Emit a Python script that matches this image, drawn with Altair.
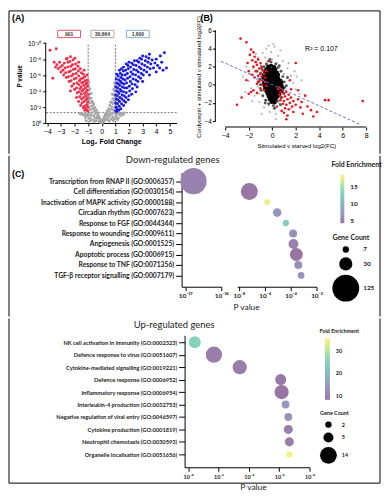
import altair as alt
import pandas as pd

FA = "Liberation Sans"
FC = "Lato"

# ---------------- (A) volcano: log2 fold change vs -log10(P) ----------------
volcano_red = [
    (-1.02, 1.5), (-1.05, 2.0), (-1.03, 2.6), (-1.06, 3.1), (-1.02, 3.6), (-1.08, 4.1), (-1.04, 4.6), (-1.1, 5.0),
    (-1.05, 5.4), (-1.12, 2.3), (-1.15, 2.9), (-1.18, 3.4), (-1.14, 3.9), (-1.2, 4.4), (-1.16, 4.9), (-1.22, 5.3),
    (-1.25, 5.8), (-1.28, 2.1), (-1.3, 2.7), (-1.33, 3.2), (-1.27, 3.7), (-1.35, 4.2), (-1.32, 4.7), (-1.38, 5.1),
    (-1.4, 5.6), (-1.36, 6.1), (-1.45, 2.5), (-1.48, 3.0), (-1.5, 3.6), (-1.43, 4.0), (-1.52, 4.5), (-1.47, 5.0),
    (-1.55, 5.5), (-1.5, 6.3), (-1.58, 6.8), (-1.62, 3.3), (-1.65, 3.9), (-1.6, 4.3), (-1.68, 4.8), (-1.63, 5.3),
    (-1.7, 5.9), (-1.72, 6.5), (-1.75, 7.1), (-1.8, 3.8), (-1.85, 4.4), (-1.82, 5.0), (-1.9, 5.6), (-1.88, 6.2),
    (-1.95, 6.8), (-1.92, 7.4), (-2.0, 4.2), (-2.05, 4.9), (-2.02, 5.5), (-2.1, 6.1), (-2.08, 6.7), (-2.15, 7.3),
    (-2.12, 7.9), (-2.2, 4.6), (-2.25, 5.3), (-2.22, 5.9), (-2.3, 6.5), (-2.28, 7.1), (-2.35, 7.7), (-2.4, 5.2),
    (-2.45, 5.8), (-2.42, 6.4), (-2.5, 7.0), (-2.48, 7.6), (-2.55, 8.1), (-2.6, 5.7), (-2.65, 6.3), (-2.7, 6.9),
    (-2.75, 7.5), (-2.8, 6.0), (-2.85, 6.6), (-2.9, 7.2), (-3.0, 6.4), (-3.05, 7.0), (-3.1, 7.6), (-3.2, 6.8),
    (-3.3, 7.3), (-3.4, 7.0), (-3.5, 7.6), (-3.6, 5.6), (-3.35, 9.3), (-3.8, 9.1), (-2.3, 8.3), (-1.98, 8.1),
    (-1.7, 7.6), (-1.1, 1.6), (-1.2, 1.8), (-1.35, 1.9), (-1.55, 2.2), (-1.7, 2.7), (-1.85, 3.2), (-2.3, 4.0),
    (-1.25, 1.6), (-1.08, 6.0), (-1.3, 6.6), (-2.6, 8.0),
]
volcano_blue = [
    (1.02, 1.5), (1.05, 2.0), (1.03, 2.5), (1.06, 3.0), (1.02, 3.5), (1.08, 4.0), (1.04, 4.5), (1.1, 5.0),
    (1.06, 5.5), (1.12, 1.8), (1.15, 2.4), (1.18, 2.9), (1.14, 3.4), (1.2, 3.9), (1.16, 4.4), (1.22, 4.9),
    (1.25, 5.4), (1.2, 5.9), (1.28, 2.1), (1.3, 2.7), (1.33, 3.2), (1.27, 3.7), (1.35, 4.2), (1.32, 4.7),
    (1.38, 5.2), (1.4, 5.7), (1.36, 6.2), (1.45, 2.4), (1.48, 3.0), (1.5, 3.5), (1.43, 4.0), (1.52, 4.5),
    (1.47, 5.0), (1.55, 5.5), (1.5, 6.0), (1.58, 6.5), (1.62, 2.8), (1.65, 3.4), (1.6, 3.9), (1.68, 4.4),
    (1.63, 4.9), (1.7, 5.4), (1.72, 6.0), (1.75, 6.6), (1.78, 3.2), (1.8, 3.8), (1.85, 4.4), (1.82, 5.0),
    (1.9, 5.6), (1.88, 6.2), (1.95, 6.8), (1.92, 7.2), (2.0, 3.4), (2.05, 4.0), (2.02, 4.6), (2.1, 5.2),
    (2.08, 5.8), (2.15, 6.4), (2.12, 7.0), (2.2, 7.5), (2.25, 4.3), (2.22, 4.9), (2.3, 5.5), (2.28, 6.1),
    (2.35, 6.7), (2.32, 7.3), (2.4, 7.8), (2.45, 4.8), (2.5, 5.4), (2.48, 6.0), (2.55, 6.6), (2.52, 7.2),
    (2.6, 7.8), (2.65, 5.2), (2.7, 5.8), (2.68, 6.4), (2.75, 7.0), (2.72, 7.6), (2.8, 8.1), (2.85, 5.6),
    (2.9, 6.2), (2.88, 6.8), (2.95, 7.4), (2.92, 8.0), (3.0, 8.4), (3.05, 6.0), (3.1, 6.6), (3.15, 7.2),
    (3.2, 7.8), (3.25, 8.3), (3.3, 6.4), (3.35, 7.0), (3.4, 7.6), (3.45, 8.1), (3.55, 6.8), (3.6, 7.4),
    (3.7, 7.9), (3.8, 6.9), (3.9, 7.5), (4.0, 8.0), (4.1, 7.2), (4.25, 6.9), (4.4, 7.6), (4.5, 6.6),
    (4.6, 8.8), (4.75, 6.9), (3.5, 8.6), (4.3, 8.4), (1.3, 6.6), (1.6, 7.0), (2.0, 7.6), (1.1, 1.45),
    (1.25, 1.6), (1.4, 1.8), (1.6, 2.2), (1.75, 2.6), (1.95, 2.9), (2.2, 3.6), (2.6, 4.5), (3.0, 5.2),
    (3.5, 6.0), (4.0, 6.4), (2.5, 3.9), (1.1, 6.1), (1.45, 6.8), (1.8, 7.4),
]
volcano_grey = [
    (0.0, 0.05), (0.05, 0.2), (-0.05, 0.15), (0.1, 0.4), (-0.1, 0.35), (0.15, 0.6), (-0.15, 0.55), (0.2, 0.8),
    (-0.2, 0.75), (0.2, 0.3), (-0.2, 0.2), (0.25, 1.0), (-0.25, 0.95), (0.3, 0.5), (-0.3, 0.6), (0.3, 1.2),
    (-0.3, 1.3), (0.35, 0.9), (-0.35, 0.8), (0.4, 1.5), (-0.4, 1.6), (0.4, 0.4), (-0.4, 0.3), (0.45, 1.1),
    (-0.45, 1.2), (0.5, 1.8), (-0.5, 1.9), (0.5, 0.7), (-0.5, 0.6), (0.55, 1.4), (-0.55, 1.5), (0.6, 2.2),
    (-0.6, 2.3), (0.6, 1.0), (-0.6, 0.9), (0.65, 1.7), (-0.65, 1.8), (0.7, 2.6), (-0.7, 2.7), (0.7, 0.5),
    (-0.7, 0.4), (0.75, 2.0), (-0.75, 2.1), (0.75, 1.2), (-0.75, 1.3), (0.8, 3.0), (-0.8, 3.1), (0.8, 0.8),
    (-0.8, 0.9), (0.85, 2.4), (-0.85, 2.5), (0.85, 1.6), (-0.85, 1.7), (0.9, 3.5), (-0.9, 3.6), (0.9, 0.5),
    (-0.9, 0.6), (0.92, 2.8), (-0.92, 2.9), (0.95, 4.0), (-0.95, 4.1), (0.95, 1.9), (-0.95, 2.0), (0.97, 3.2),
    (-0.97, 3.3), (0.98, 4.6), (-0.98, 4.7), (0.99, 1.2), (-0.99, 1.1), (1.05, 0.8), (-1.05, 0.9), (1.1, 1.1),
    (-1.1, 1.0), (1.2, 0.6), (-1.2, 0.7), (1.25, 1.2), (-1.25, 1.1), (1.35, 0.9), (-1.35, 1.0), (1.45, 1.2),
    (-1.45, 1.15), (1.55, 1.0), (-1.55, 1.1), (1.65, 1.25), (-1.6, 1.2), (1.15, 0.4), (-1.15, 0.3), (0.1, 0.1),
    (-0.1, 0.05), (0.55, 0.25), (-0.55, 0.2), (0.85, 0.3), (-0.85, 0.25), (0.65, 2.6), (-0.65, 2.5), (0.88, 4.2),
    (-0.88, 4.3), (0.95, 5.0), (-0.95, 5.1), (0.78, 3.6), (-0.78, 3.7),
]
box_labels = ["901", "30,664", "1,600"]
box_x = [-2.4, 0.05, 2.65]
box_y = 11.15
box_colors = ["#e4576b", "#a9a9a9", "#86b3d8"]
fc_cutoffs = [-1, 1]
p_cutoff = [1.3]
volcano_ticks_x = [-4, -3, -2, -1, 0, 1, 2, 3, 4, 5]
volcano_ticks_y = [0, 2, 4, 6, 8, 10]

# ---------------- (B) scatter ----------------
sc_core = [
    (-0.35, 2.0), (-0.1, 2.1), (0.15, 1.95), (-0.5, 1.7), (-0.25, 1.75), (0.0, 1.65), (0.25, 1.7),
    (-0.6, 1.4), (-0.35, 1.45), (-0.1, 1.35), (0.15, 1.4), (0.4, 1.35), (-0.7, 1.1), (-0.45, 1.15),
    (-0.2, 1.05), (0.05, 1.1), (0.3, 1.05), (0.5, 1.1), (-0.75, 0.8), (-0.5, 0.85), (-0.25, 0.75),
    (0.0, 0.8), (0.25, 0.85), (0.5, 0.75), (-0.75, 0.5), (-0.5, 0.45), (-0.25, 0.55), (0.0, 0.5),
    (0.25, 0.45), (0.5, 0.5), (0.7, 0.45), (-0.7, 0.2), (-0.45, 0.15), (-0.2, 0.25), (0.05, 0.2),
    (0.3, 0.15), (0.55, 0.2), (0.75, 0.25), (-0.65, -0.1), (-0.4, -0.05), (-0.15, -0.15), (0.1, -0.1),
    (0.35, -0.05), (0.6, -0.15), (0.8, -0.1), (-0.6, -0.4), (-0.35, -0.45), (-0.1, -0.35), (0.15, -0.4),
    (0.4, -0.45), (0.65, -0.35), (0.85, -0.4), (-0.5, -0.7), (-0.25, -0.75), (0.0, -0.65), (0.25, -0.7),
    (0.5, -0.75), (0.75, -0.7), (-0.4, -1.0), (-0.15, -1.05), (0.1, -0.95), (0.35, -1.0), (0.6, -1.05),
    (-0.3, -1.3), (-0.05, -1.35), (0.2, -1.25), (0.45, -1.3), (-0.2, -1.6), (0.05, -1.65), (0.3, -1.55),
    (-0.05, -1.9), (0.2, -1.95),
]
sc_halo = [
    (-0.9, 1.8), (-1.0, 1.2), (-1.05, 0.6), (-1.0, 0.0), (-0.95, -0.6), (-0.8, -1.2), (-0.55, -1.7),
    (-0.3, -2.1), (0.1, -2.3), (0.45, -1.8), (0.75, -1.4), (0.95, -0.9), (1.05, -0.3), (1.0, 0.3),
    (0.9, 0.9), (0.75, 1.5), (0.5, 1.9), (0.3, 2.3), (-0.1, 2.5), (-0.5, 2.3), (-0.7, 2.0), (-1.2, 0.3),
    (1.2, -0.1), (0.6, 2.1), (-0.6, -2.0), (0.7, -2.2), (-1.3, 1.5), (1.3, 0.8), (-0.2, 2.8), (0.2, -2.6),
]
sc_fringe = [
    (-1.5, 2.5), (-1.2, 3.0), (-0.8, 3.5), (-0.5, 4.0), (0.2, 4.2), (0.5, 3.2), (0.9, 2.6), (1.3, 1.8),
    (1.6, 1.0), (1.8, 0.2), (2.0, -0.5), (1.5, -1.5), (1.2, -2.2), (0.8, -2.8), (0.3, -3.2), (-0.2, -3.0),
    (-0.7, -2.5), (-1.1, -1.9), (-1.5, -1.2), (-1.8, -0.4), (-2.0, 0.4), (-1.9, 1.2), (-1.6, 1.8),
    (-1.0, 2.2), (-0.9, 1.5), (1.0, 1.2), (1.1, 0.3), (1.2, -0.6), (0.9, -1.4), (-1.1, -1.0), (-1.3, 0.6),
    (-1.2, -0.2), (0.0, 2.8), (0.4, 2.4), (-0.4, 2.6), (0.6, -2.0), (-0.3, -2.3), (0.1, -2.6), (1.4, 2.4),
    (-2.3, -0.8), (2.3, -1.0), (-0.6, 3.0), (0.7, 3.8), (-1.4, 3.4), (1.9, 1.5), (-2.2, 2.0), (2.5, 0.5),
    (-0.1, 3.6), (0.3, -3.8), (-0.9, -3.2), (0.1, 4.5), (-0.3, 4.3), (1.6, -2.6), (-1.7, -1.8), (2.1, 0.9),
    (-2.5, 0.9),
]
sc_red = [
    (-1.8, 3.9), (-1.6, 3.6), (-1.9, 3.3), (-1.5, 3.1), (-1.2, 2.8), (-1.7, 2.7), (-1.4, 2.5), (-1.0, 2.4),
    (-1.3, 2.2), (-0.9, 2.0), (-1.6, 2.0), (-1.1, 1.8), (-0.8, 1.6), (-1.4, 1.5), (-1.0, 1.3), (-0.7, 1.2),
    (-1.2, 1.0), (-0.9, 0.9), (-0.6, 0.8), (-1.5, 0.8), (-0.8, 0.5), (-1.1, 0.4), (-0.6, 0.3), (-1.3, 0.1),
    (-0.9, 0.0), (-0.5, -0.1), (-1.0, -0.4), (-1.6, -0.6), (-1.8, -0.8), (-1.3, -0.9), (-2.0, -1.0),
    (-0.7, -0.6), (-2.2, 0.5), (-2.0, 1.5), (-0.5, 1.5), (-2.6, -1.4), (-3.0, -2.2), (-2.7, 5.1),
    (-2.2, 4.7), (-0.3, 2.6), (-1.7, 1.1), (-2.1, 2.4), (0.5, -0.5), (0.7, -0.8), (0.9, -0.6), (0.6, -1.1),
    (1.0, -1.0), (1.2, -0.8), (0.8, -1.4), (1.1, -1.3), (1.4, -1.1), (0.7, -1.7), (1.0, -1.8), (1.3, -1.6),
    (1.6, -1.4), (0.9, -2.1), (1.2, -2.2), (1.5, -2.0), (1.8, -1.8), (1.1, -2.6), (1.4, -2.7), (1.7, -2.4),
    (2.0, -2.2), (2.2, -1.6), (2.4, -2.5), (1.0, -3.1), (1.3, -3.4), (1.8, -3.0), (2.6, -3.2), (3.0, -2.4),
    (3.3, -2.8), (3.8, -3.0), (4.5, -1.7), (4.8, -1.7), (7.7, -1.8), (2.8, -1.2), (0.6, -0.3), (1.5, 0.5),
    (2.0, 2.4), (1.2, -3.8), (3.5, -3.5), (0.4, -2.4), (2.2, -0.6), (1.6, -0.5), (0.8, -2.9), (2.5, -1.9),
]
reg_x = [-4.35, 7.5]
reg_y = [2.6, -4.4]
r2_label = ["R² = 0.107"]
r2_pos = [2.8, 3.95]
scatter_ticks_x = [-4, -2, 0, 2, 4, 6, 8]
scatter_ticks_y = [-4, -2, 0, 2, 4, 6]

# ---------------- (C) GO enrichment ----------------
down_terms = [
    "Transcription from RNAP II (GO:0006357)", "Cell differentiation (GO:0030154)",
    "Inactivation of MAPK activity (GO:0000188)", "Circadian rhythm (GO:0007623)",
    "Response to FGF (GO:0044344)", "Response to wounding (GO:0009611)", "Angiogenesis (GO:0001525)",
    "Apoptotic process (GO:0006915)", "Response to TNF (GO:0071356)",
    "TGF-β receptor signalling (GO:0007179)",
]
down_log10p = [-36.77, -7.19, -5.81, -5.04, -4.37, -3.81, -3.78, -3.56, -3.41, -3.19]
down_count = [120, 50, 6, 13, 7, 11, 17, 29, 11, 8]
down_fold = [5.5, 4.7, 18.0, 7.2, 12.9, 6.5, 5.5, 4.5, 6.5, 7.2]

up_terms = [
    "NK cell activation in immunity (GO:0002323)", "Defence response to virus (GO:0051607)",
    "Cytokine-mediated signalling (GO:0019221)", "Defence response (GO:0006952)",
    "Inflammatory response (GO:0006954)", "Interleukin-4 production (GO:0032753)",
    "Negative regulation of viral entry (GO:0046597)", "Cytokine production (GO:0001819)",
    "Neutrophil chemotaxis (GO:0030593)", "Organelle localisation (GO:0051656)",
]
up_log10p = [-7.56, -6.30, -4.60, -1.90, -1.84, -1.58, -1.40, -1.40, -1.33, -1.33]
up_count = [7, 13, 10, 6, 10, 3, 3, 4, 4, 2]
up_fold = [24.7, 9.7, 9.7, 9.0, 8.5, 13.8, 13.2, 9.7, 9.7, 34.5]

# ---------------- helpers ----------------
SUP = str.maketrans("-0123456789", "⁻⁰¹²³⁴⁵⁶⁷⁸⁹")


def pow10(e, neg_zero=False):
    s = str(e).translate(SUP)
    if e == 0 and neg_zero:
        s = "⁻⁰"
    return "10" + s


def expr_from(pairs):
    out = "''"
    for v, s in pairs:
        out = f"(datum.value == {v} ? '{s}' : {out})"
    return out


VIRIDIS = ["#440154", "#482878", "#3e4989", "#31688e", "#26828e",
           "#1f9e89", "#35b779", "#6ece58", "#b5de2b", "#fde725"]


def pastel(h, a=0.55):
    c = [int(h[i:i + 2], 16) for i in (1, 3, 5)]
    return "#" + "".join(f"{round(v * a + 255 * (1 - a)):02x}" for v in c)


PASTEL = [pastel(c) for c in VIRIDIS]


def piecewise(lo, hi):
    return [lo + i * (hi - lo) / 9 for i in range(10)]


def frame(rows, cols):
    return pd.DataFrame(rows, columns=cols)


# figure frame (relative to the first view of each row)
BL, BR = -37, 337


def border(x1, y1, x2, y2):
    return alt.Chart(pd.DataFrame({"a": [0]})).mark_rule(color="black", strokeWidth=1).encode(
        x=alt.value(x1), x2=alt.value(x2), y=alt.value(y1), y2=alt.value(y2))


def text_at(t, x, y, size, weight="normal", align="left", font=FC, color="#222222"):
    return alt.Chart(pd.DataFrame({"t": [t]})).mark_text(
        align=align, baseline="middle", fontSize=size, fontWeight=weight, font=font, color=color).encode(
        x=alt.value(x), y=alt.value(y), text="t:N")


# ---------------- panel A ----------------
xA = alt.Scale(domain=[-4.12, 5.5], nice=False, zero=False)
yA = alt.Scale(domain=[0, 11.8], nice=False, zero=False)
axAx = alt.Axis(values=volcano_ticks_x, title="Log₂ Fold Change", grid=False, tickSize=3,
                tickColor="black", domainColor="black", labelColor="black", labelFont=FA,
                labelFontSize=7, labelFlush=False, labelOverlap=False, labelPadding=2, titleFont=FA,
                titleFontSize=7, titleFontWeight="bold", titleColor="black", titlePadding=3)
axAy = alt.Axis(values=volcano_ticks_y, labelExpr=expr_from([(v, pow10(-v)) for v in volcano_ticks_y]),
                title="P value", grid=False, domain=False, tickSize=3, tickColor="black",
                labelColor="black", labelFont=FA, labelFontSize=6.5, labelPadding=2, labelOverlap=False,
                titleFont=FA, titleFontSize=6.5, titleFontWeight="bold", titleColor="black", titlePadding=5)
XA = alt.X("fc:Q", scale=xA, axis=axAx)
YA = alt.Y("nlp:Q", scale=yA, axis=axAy)


def vpts(data, color):
    return alt.Chart(frame(data, ["fc", "nlp"])).mark_circle(color=color, size=9, opacity=1).encode(x=XA, y=YA)


a_axisline = alt.Chart(pd.DataFrame({"nlp": [volcano_ticks_y[0]], "nlp2": [volcano_ticks_y[-1]]})).mark_rule(
    color="black", strokeWidth=1).encode(x=alt.value(0), y=YA, y2="nlp2:Q")
a_vcut = alt.Chart(pd.DataFrame({"fc": fc_cutoffs, "nlp": [0, 0], "nlp2": [10, 10]})).mark_rule(
    color="#555555", strokeDash=[2, 1.5], strokeWidth=0.8).encode(x=XA, y=YA, y2="nlp2:Q")
a_hcut = alt.Chart(pd.DataFrame({"nlp": p_cutoff})).mark_rule(
    color="#555555", strokeDash=[2, 1.5], strokeWidth=0.8).encode(y=YA)
boxes_df = pd.DataFrame({"fc": box_x, "nlp": [box_y] * 3, "label": box_labels})
a_boxes = alt.Chart(boxes_df).mark_point(shape="M-1,-0.32H1V0.32H-1Z", size=530, filled=False,
                                         strokeWidth=1, opacity=1).encode(
    x=XA, y=YA, color=alt.Color("label:N", scale=alt.Scale(domain=box_labels, range=box_colors), legend=None))
a_text = alt.Chart(boxes_df).mark_text(fontSize=5, fontWeight="bold", color="#333333", font=FA).encode(
    x=XA, y=YA, text="label:N")

panelA = alt.layer(a_vcut, a_hcut, vpts(volcano_grey, "#a6a6a6"), vpts(volcano_red, "#ef2f4b"),
                   vpts(volcano_blue, "#1b1be0"), a_axisline, a_boxes, a_text,
                   text_at("(A)", -34, -11, 9, "bold", font=FA, color="black"),
                   border(BL, -18, BL, 126), border(BR, -18, BR, 126),
                   border(BL, -18, BR, -18)).properties(width=132, height=95)

# ---------------- panel B ----------------
xB = alt.Scale(domain=[-4.42, 8.5], nice=False, zero=False)
yB = alt.Scale(domain=[-4.33, 6.18], nice=False, zero=False)
axBx = alt.Axis(values=scatter_ticks_x, title="Stimulated v starved log2(FC)", domain=False, grid=False,
                offset=3, tickSize=3, tickColor="black", labelColor="black", labelFont=FA, labelFontSize=7,
                labelFlush=False, labelOverlap=False, labelPadding=2, titleFont=FA, titleFontSize=6,
                titleFontWeight="normal", titleColor="black", titlePadding=4)
axBy = alt.Axis(values=scatter_ticks_y, title="Cordycepin + stimulated v stimulated log2(FC)", domain=False,
                grid=False, offset=5, tickSize=3, tickColor="black", labelColor="black", labelFont=FA,
                labelFontSize=6.5, labelAngle=0, labelAlign="right", labelBaseline="middle",
                labelPadding=1, labelFlush=False, labelOverlap=False,
                titleFont=FA, titleFontSize=6, titleFontWeight="normal", titleColor="black", titlePadding=3)
XB = alt.X("sx:Q", scale=xB, axis=axBx)
YB = alt.Y("sy:Q", scale=yB, axis=axBy)


def spts(data, color, size):
    return alt.Chart(frame(data, ["sx", "sy"])).mark_circle(color=color, size=size, opacity=1).encode(x=XB, y=YB)


b_xline = alt.Chart(pd.DataFrame({"sx": [scatter_ticks_x[0]], "sx2": [scatter_ticks_x[-1]]})).mark_rule(
    color="black").encode(x=XB, x2="sx2:Q", y=alt.value(99))
b_yline = alt.Chart(pd.DataFrame({"sy": [scatter_ticks_y[0]], "sy2": [scatter_ticks_y[-1]]})).mark_rule(
    color="black").encode(y=YB, y2="sy2:Q", x=alt.value(-5))
b_reg = alt.Chart(pd.DataFrame({"sx": reg_x, "sy": reg_y})).mark_line(
    color="#6b6bea", strokeDash=[3, 2], strokeWidth=1).encode(x=XB, y=YB)
b_r2 = alt.Chart(pd.DataFrame({"sx": [r2_pos[0]], "sy": [r2_pos[1]], "t": r2_label})).mark_text(
    align="left", baseline="middle", fontSize=7, font=FA, color="black").encode(x=XB, y=YB, text="t:N")

panelB = alt.layer(spts(sc_fringe, "#b8b8b8", 5), spts(sc_halo, "#555555", 9), spts(sc_core, "#000000", 18),
                   spts(sc_red, "#e8161e", 7), b_reg, b_xline, b_yline, b_r2,
                   text_at("(B)", -20, -11, 9, "bold", font=FA, color="black")).properties(width=153, height=96)

row1 = alt.hconcat(panelA, panelB, spacing=44, bounds="flush")

# ---------------- panel C, down-regulated ----------------
down_df = pd.DataFrame({"term": down_terms, "lp": down_log10p, "count": down_count, "fe": down_fold})
up_df = pd.DataFrame({"term": up_terms, "lp": up_log10p, "count": up_count, "fe": up_fold})

col_down = alt.Scale(domain=piecewise(4.45, 18.7), range=PASTEL, nice=False, zero=False)
col_up = alt.Scale(domain=piecewise(8.3, 35.6), range=PASTEL, nice=False, zero=False)
size_down = alt.Scale(domain=[0, 125], range=[0, 729])
size_up = alt.Scale(domain=[0, 14], range=[0, 289])

lab = dict(labelFont=FC, labelFontWeight="bold", labelColor="#222222", labelOverlap=False, labelFlush=False)

spacer2 = alt.layer(
    text_at("(C)", -34, 1.5, 9, "bold", font=FA, color="black"),
    text_at("Down-regulated genes", 128, -12.5, 9.5, align="center"),
    border(BL, -17, BL, 145), border(BR, -17, BR, 145),
).properties(width=121, height=115)

left_seg = alt.Chart(down_df).transform_filter("datum.lp < -20").mark_circle(opacity=1).encode(
    x=alt.X("lp:Q", scale=alt.Scale(domain=[-37.1, -36], nice=False, zero=False),
            axis=alt.Axis(values=[-37, -36], labelExpr=expr_from([(v, pow10(v)) for v in [-37, -36]]),
                          title=None, grid=False, tickSize=4, tickColor="black", domainColor="black",
                          labelFontSize=6.5, labelPadding=2, **lab)),
    y=alt.Y("term:N", sort=down_terms,
            scale=alt.Scale(type="point", domain=down_terms, padding=0.94, align=0.43),
            axis=alt.Axis(title=None, tickSize=6, tickColor="black", domainColor="black",
                          labelFontSize=6.8, labelPadding=2, labelLimit=400, **lab)),
    color=alt.Color("fe:Q", scale=col_down, legend=None),
    size=alt.Size("count:Q", scale=size_down, legend=None),
).properties(width=40, height=115)

right_bubbles = alt.Chart(down_df).transform_filter("datum.lp > -20").mark_circle(opacity=1).encode(
    x=alt.X("lp:Q", scale=alt.Scale(domain=[-8.13, -2], nice=False, zero=False),
            axis=alt.Axis(values=[-8, -6, -4, -2], labelExpr=expr_from([(v, pow10(v)) for v in [-8, -6, -4, -2]]),
                          title="P value", titleX=9, titleAlign="center", titleFont=FC, titleFontSize=8.5,
                          titleFontWeight="normal", titleColor="#222222", titlePadding=3, grid=False,
                          tickSize=4, tickColor="black", domainColor="black", labelFontSize=6.5,
                          labelPadding=2, **lab)),
    y=alt.Y("term:N", sort=down_terms,
            scale=alt.Scale(type="point", domain=down_terms, padding=0.94, align=0.43), axis=None),
    color=alt.Color("fe:Q", scale=col_down,
                    legend=alt.Legend(title=None, orient="none", legendX=104, legendY=2, direction="vertical",
                                      gradientLength=49, gradientThickness=4, gradientStrokeWidth=0,
                                      values=[5, 10, 15], labelOffset=6, padding=0, labelFontSize=6.5,
                                      labelFont=FC, labelFontWeight="bold", labelColor="#222222")),
    size=alt.Size("count:Q", scale=size_down,
                  legend=alt.Legend(title="Gene Count", orient="none", legendX=96, legendY=62,
                                    values=[7, 30, 125], symbolType="circle", symbolFillColor="black",
                                    symbolStrokeColor="black", symbolStrokeWidth=0, symbolOpacity=1,
                                    rowPadding=4, labelOffset=4, padding=0, titlePadding=5,
                                    titleFont=FC, titleFontSize=7, titleFontWeight="bold",
                                    titleColor="#222222", labelFont=FC, labelFontSize=6.5,
                                    labelFontWeight="bold", labelColor="#222222")),
)
right_seg = alt.layer(right_bubbles, text_at("Fold Enrichment", 95, -8, 7, "bold")).properties(
    width=80, height=115)

row2 = alt.hconcat(spacer2, left_seg, right_seg, spacing=16, bounds="flush").resolve_scale(
    color="independent", size="independent", x="independent", y="independent")

# ---------------- panel C, up-regulated ----------------
spacer3 = alt.layer(
    text_at("Up-regulated genes", 129.5, -10.5, 9.5, align="center"),
    border(BL, -17, BL, 149), border(BR, -17, BR, 149), border(BL, 149, BR, 149),
).properties(width=140, height=133)

up_bubbles = alt.Chart(up_df).mark_circle(opacity=1).encode(
    x=alt.X("lp:Q", scale=alt.Scale(domain=[-8.23, 0], nice=False, zero=False),
            axis=alt.Axis(values=[-8, -6, -4, -2, 0],
                          labelExpr=expr_from([(v, pow10(v, neg_zero=True)) for v in [-8, -6, -4, -2, 0]]),
                          title="P value", titleX=69, titleAlign="center", titleFont=FC, titleFontSize=8.5,
                          titleFontWeight="normal", titleColor="#222222", titlePadding=3, grid=False,
                          tickSize=4, tickColor="black", domainColor="black", labelFontSize=5.5,
                          labelPadding=3, **lab)),
    y=alt.Y("term:N", sort=up_terms,
            scale=alt.Scale(type="point", domain=up_terms, padding=0.8, align=0.35),
            axis=alt.Axis(title=None, tickSize=6, tickColor="black", domainColor="black",
                          labelFontSize=5.75, labelPadding=2, labelLimit=400, **lab)),
    color=alt.Color("fe:Q", scale=col_up,
                    legend=alt.Legend(title=None, orient="none", legendX=141.5, legendY=3, direction="vertical",
                                      gradientLength=62, gradientThickness=5, gradientStrokeWidth=0,
                                      values=[10, 20, 30], labelOffset=6, padding=0, labelFontSize=5.5,
                                      labelFont=FC, labelFontWeight="bold", labelColor="#222222")),
    size=alt.Size("count:Q", scale=size_up,
                  legend=alt.Legend(title="Gene Count", orient="none", legendX=136.5, legendY=76,
                                    values=[2, 5, 14], symbolType="circle", symbolFillColor="black",
                                    symbolStrokeColor="black", symbolStrokeWidth=0, symbolOpacity=1,
                                    rowPadding=4, labelOffset=5, padding=0, titlePadding=5,
                                    titleFont=FC, titleFontSize=5.5, titleFontWeight="bold",
                                    titleColor="#222222", labelFont=FC, labelFontSize=5.5,
                                    labelFontWeight="bold", labelColor="#222222")),
)
up_chart = alt.layer(up_bubbles, text_at("Fold Enrichment", 136, -4.5, 5.5, "bold")).properties(
    width=126, height=133)

row3 = alt.hconcat(spacer3, up_chart, spacing=0, bounds="flush").resolve_scale(
    color="independent", size="independent", x="independent", y="independent")

chart = alt.vconcat(row1, row2, row3, spacing=0).resolve_scale(
    color="independent", size="independent").properties(padding=0).configure_view(strokeWidth=0)

chart.save("out.html", embed_options={"renderer": "svg", "actions": False})
